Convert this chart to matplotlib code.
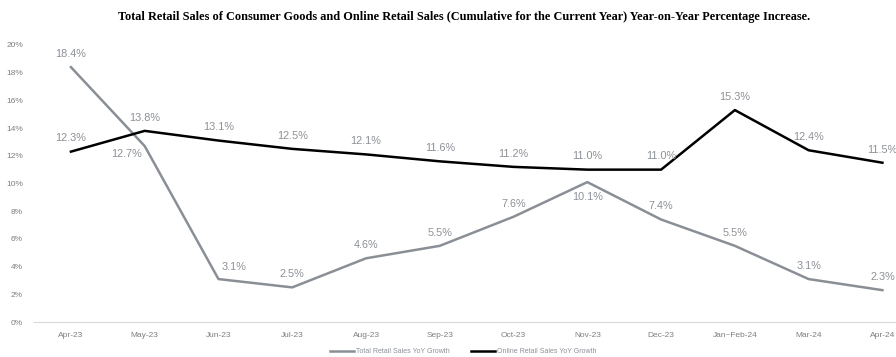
import matplotlib.pyplot as plt
from matplotlib.ticker import FuncFormatter

months = ['Apr-23', 'May-23', 'Jun-23', 'Jul-23', 'Aug-23', 'Sep-23', 'Oct-23',
          'Nov-23', 'Dec-23', 'Jan~Feb-24', 'Mar-24', 'Apr-24']
total_retail = [18.4, 12.7, 3.1, 2.5, 4.6, 5.5, 7.6, 10.1, 7.4, 5.5, 3.1, 2.3]
online_retail = [12.3, 13.8, 13.1, 12.5, 12.1, 11.6, 11.2, 11.0, 11.0, 15.3, 12.4, 11.5]

plt.rcParams['font.family'] = ['Liberation Sans', 'DejaVu Sans']

grey = '#8a8f96'
label_grey = '#8c9096'

fig = plt.figure(figsize=(8.96, 3.57), dpi=100)
ax = fig.add_axes([0.038, 0.098, 0.988, 0.776])

x = list(range(len(months)))
ax.plot(x, total_retail, color=grey, lw=1.8, label='Total Retail Sales YoY Growth', zorder=3)
ax.plot(x, online_retail, color='black', lw=1.8, label='Online Retail Sales YoY Growth', zorder=4)

# label offsets (points) for total retail
total_off = {1: (-13, -6), 2: (11, 8.5), 7: (0, -11)}
for i, v in enumerate(total_retail):
    dx, dy = total_off.get(i, (0, 9.5))
    ax.annotate(f'{v:.1f}%', (i, v), xytext=(dx, dy), textcoords='offset points',
                ha='center', va='center', fontsize=7.8, color=label_grey, zorder=5)
for i, v in enumerate(online_retail):
    ax.annotate(f'{v:.1f}%', (i, v), xytext=(0, 9.5), textcoords='offset points',
                ha='center', va='center', fontsize=7.8, color=label_grey, zorder=5)

ax.set_xlim(-0.5, 11.5)
ax.set_ylim(0, 20)
ax.set_yticks(range(0, 21, 2))
ax.yaxis.set_major_formatter(FuncFormatter(lambda v, p: f'{int(v)}%'))
ax.set_xticks(x)
ax.set_xticklabels(months)
ax.tick_params(axis='both', length=0, labelsize=6, colors='#7f7f7f')
ax.tick_params(axis='x', pad=7)
ax.tick_params(axis='y', pad=8)
for s in ['top', 'right', 'left']:
    ax.spines[s].set_visible(False)
ax.spines['bottom'].set_color('#d9d9d9')
ax.spines['bottom'].set_linewidth(0.8)

fig.text(0.518, 0.952, 'Total Retail Sales of Consumer Goods and Online Retail Sales (Cumulative for the Current Year) Year-on-Year Percentage Increase.',
         ha='center', va='center', fontsize=8.8, fontweight='bold',
         family='Liberation Serif')

leg = fig.legend(loc='center', bbox_to_anchor=(0.517, 0.015), ncol=2, frameon=False,
                 fontsize=5, handlelength=3.5, handletextpad=0.3, columnspacing=3)
for t in leg.get_texts():
    t.set_color('#8c9096')

fig.savefig('out.png', dpi=100)
